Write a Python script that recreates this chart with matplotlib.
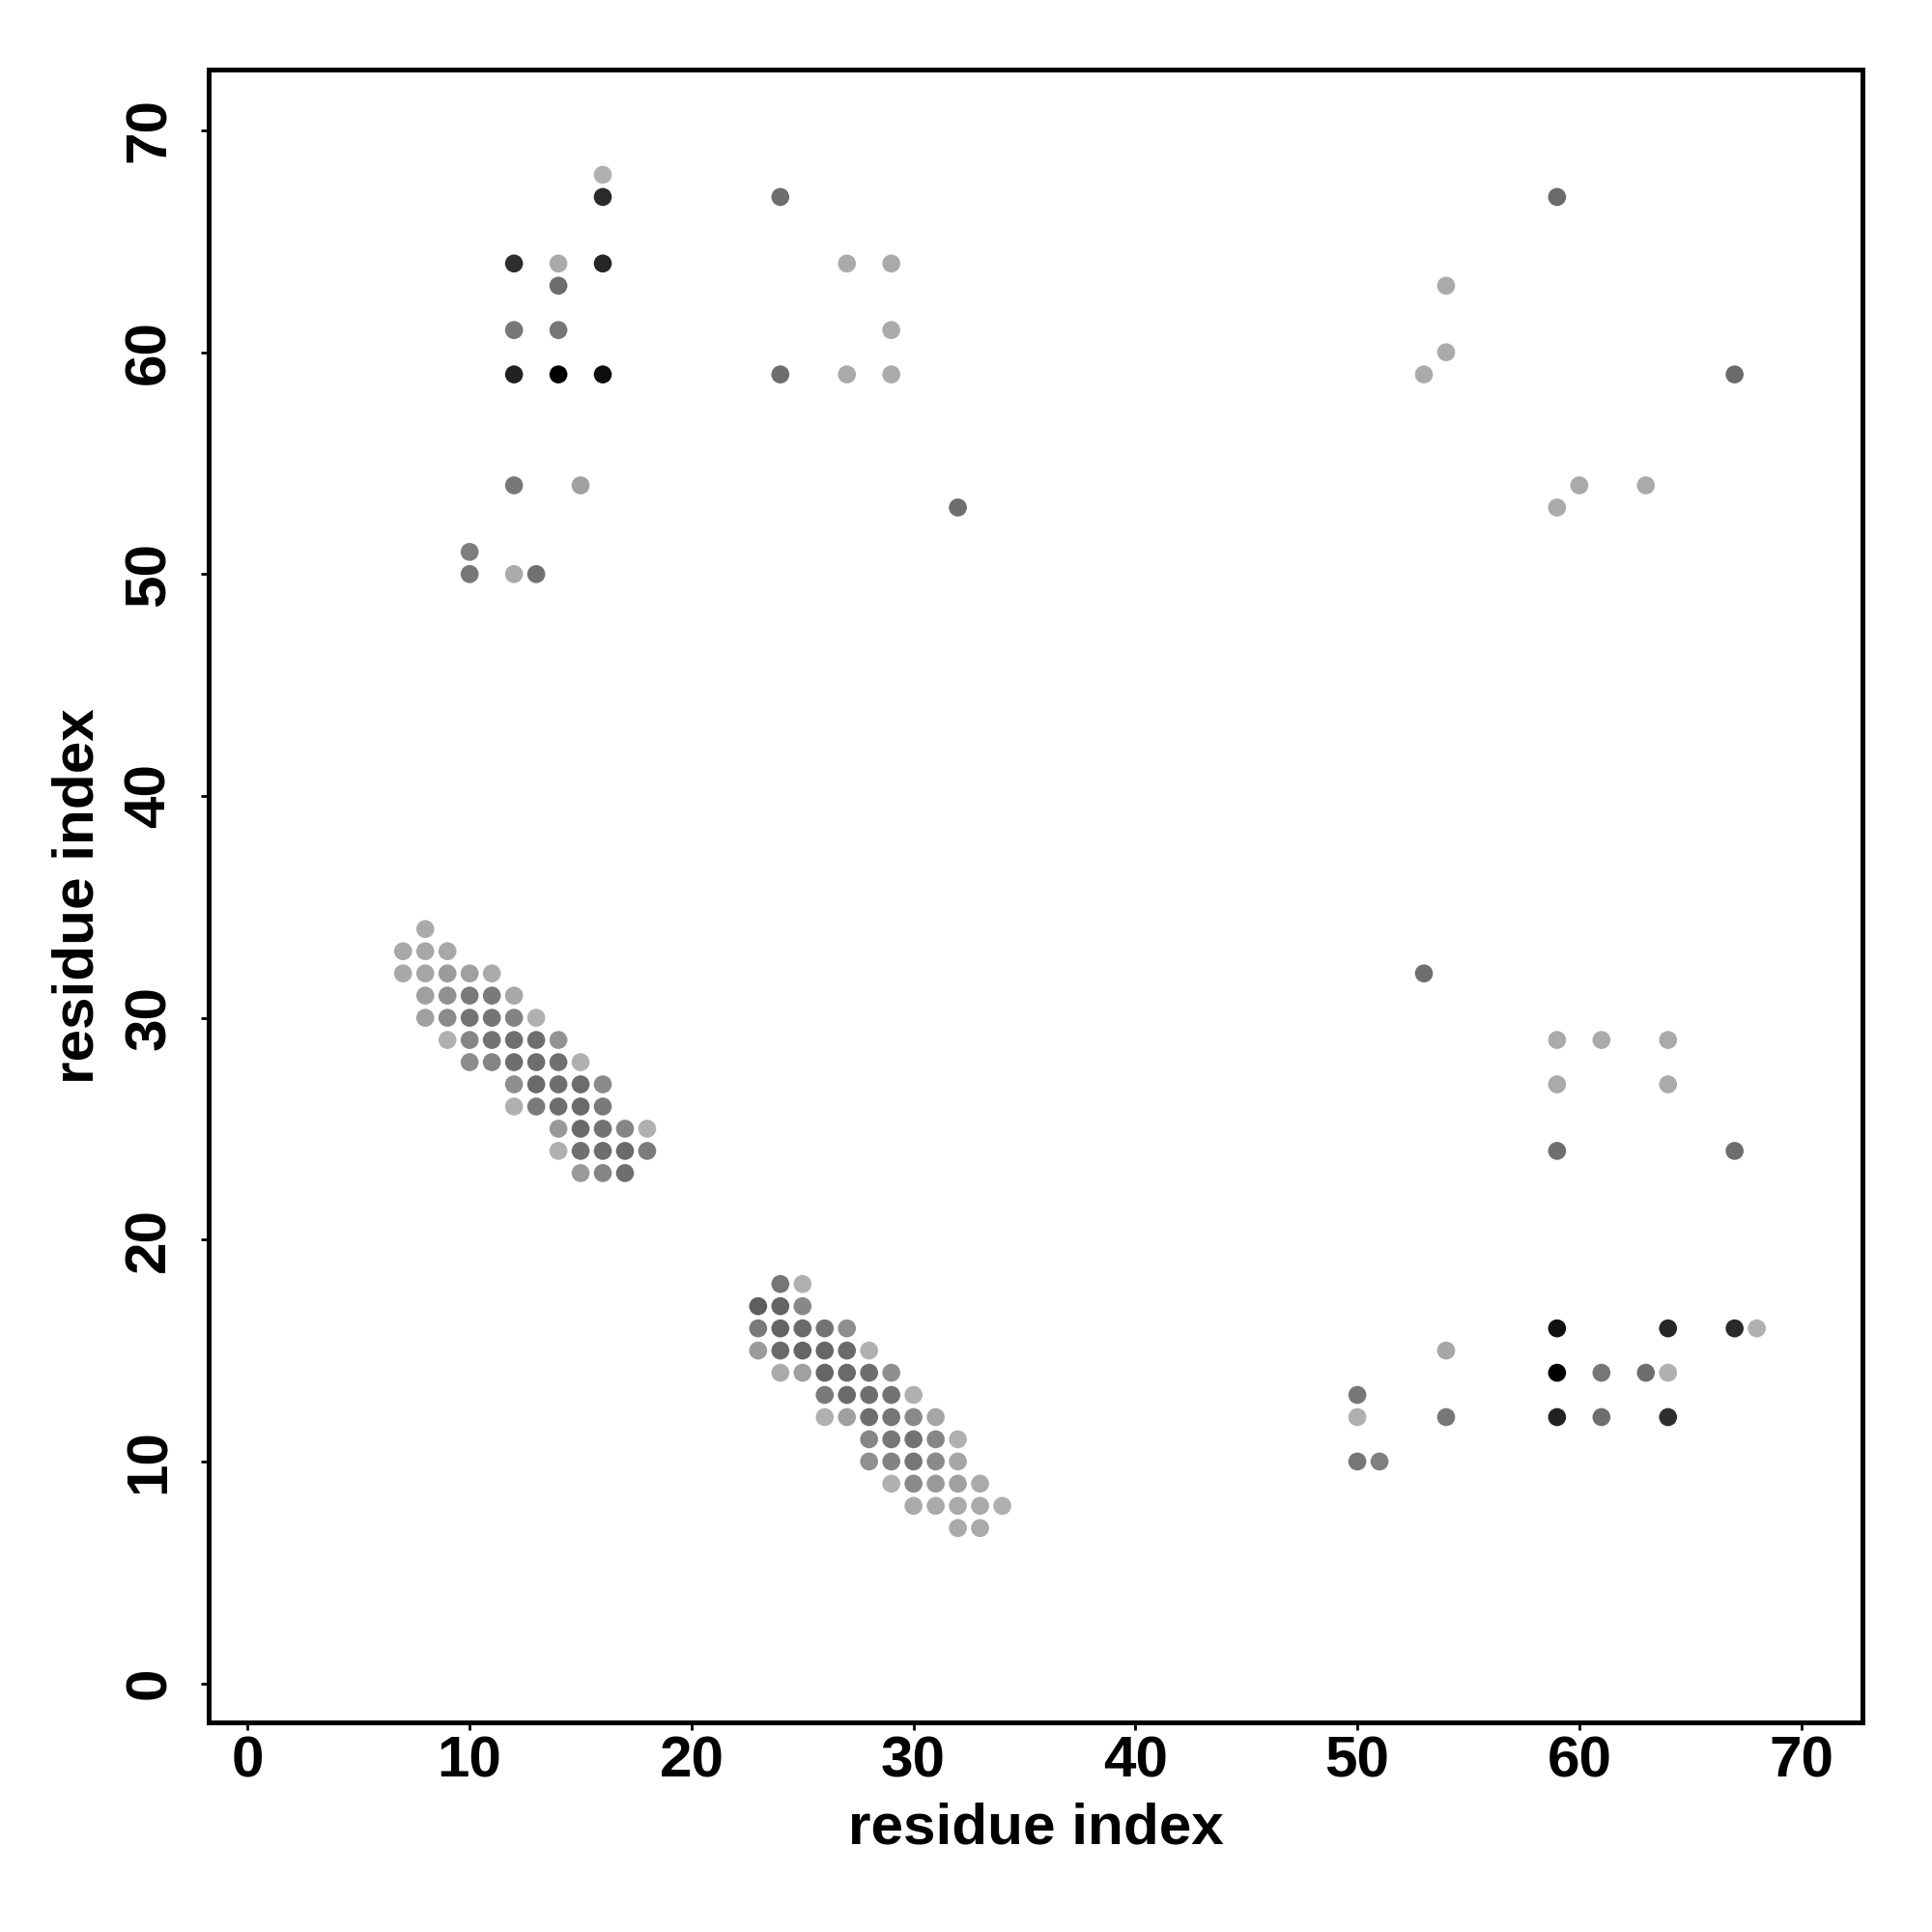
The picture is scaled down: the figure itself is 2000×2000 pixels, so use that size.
import matplotlib
matplotlib.use("Agg")
import matplotlib.pyplot as plt

# contact map points: residue i, residue j, grey level (0 = black, 255 = white)
res_i = [
    8,
    7, 8, 9,
    7, 8, 9, 10, 11,
    8, 9, 10, 11, 12,
    8, 9, 10, 11, 12, 13,
    9, 10, 11, 12, 13, 14,
    10, 11, 12, 13, 14, 15,
    12, 13, 14, 15, 16,
    12, 13, 14, 15, 16,
    14, 15, 16, 17, 18,
    14, 15, 16, 17, 18,
    15, 16, 17,
    # second strand pair
    24, 25,
    23, 24, 25,
    23, 24, 25, 26, 27,
    23, 24, 25, 26, 27, 28,
    24, 25, 26, 27, 28, 29,
    26, 27, 28, 29, 30,
    26, 27, 28, 29, 30, 31,
    28, 29, 30, 31, 32,
    28, 29, 30, 31, 32,
    29, 30, 31, 32, 33,
    30, 31, 32, 33, 34,
    32, 33,
    # top left
    16, 16, 12, 14, 16, 14, 12, 14, 12, 14, 16, 12, 15, 10, 10, 12, 13,
    # top middle
    24, 27, 29, 29, 24, 27, 29, 32,
    # top right
    59, 54, 54, 53, 67, 60, 63, 59,
    # right middle
    53, 59, 61, 64, 59, 64, 59, 67,
    # bottom right
    59, 64, 67, 68, 54, 59, 61, 63, 64, 50, 50, 54, 59, 61, 64, 50, 51,
]

res_j = [
    34,
    33, 33, 33,
    32, 32, 32, 32, 32,
    31, 31, 31, 31, 31,
    30, 30, 30, 30, 30, 30,
    29, 29, 29, 29, 29, 29,
    28, 28, 28, 28, 28, 28,
    27, 27, 27, 27, 27,
    26, 26, 26, 26, 26,
    25, 25, 25, 25, 25,
    24, 24, 24, 24, 24,
    23, 23, 23,
    18, 18,
    17, 17, 17,
    16, 16, 16, 16, 16,
    15, 15, 15, 15, 15, 15,
    14, 14, 14, 14, 14, 14,
    13, 13, 13, 13, 13,
    12, 12, 12, 12, 12, 12,
    11, 11, 11, 11, 11,
    10, 10, 10, 10, 10,
    9, 9, 9, 9, 9,
    8, 8, 8, 8, 8,
    7, 7,
    68, 67, 64, 64, 64, 63, 61, 61, 59, 59, 59, 54, 54, 51, 50, 50, 50,
    67, 64, 64, 61, 59, 59, 59, 53,
    67, 63, 60, 59, 59, 54, 54, 53,
    32, 29, 29, 29, 27, 27, 24, 24,
    16, 16, 16, 16, 15, 14, 14, 14, 14, 13, 12, 12, 12, 12, 12, 10, 10,
]

grey = [
    170,
    168, 168, 168,
    168, 165, 155, 160, 170,
    160, 145, 122, 122, 168,
    160, 138, 116, 116, 131, 176,
    176, 133, 114, 112, 110, 147,
    141, 133, 110, 110, 112, 176,
    143, 106, 110, 108, 138,
    176, 122, 110, 106, 122,
    153, 106, 114, 134, 176,
    176, 112, 110, 106, 124,
    153, 133, 110,
    118, 176,
    94, 100, 136,
    122, 100, 106, 115, 142,
    154, 106, 102, 102, 106, 176,
    170, 160, 102, 106, 110, 142,
    122, 106, 110, 114, 176,
    176, 160, 110, 118, 138, 166,
    134, 118, 114, 134, 176,
    144, 131, 118, 138, 166,
    176, 138, 153, 160, 170,
    170, 170, 170, 170, 176,
    170, 170,
    176, 42, 46, 170, 38, 110, 119, 119, 34, 0, 14, 119, 160, 126, 119, 170, 112,
    110, 170, 170, 170, 110, 170, 170, 110,
    106, 170, 170, 170, 106, 170, 170, 170,
    110, 170, 170, 170, 170, 170, 110, 110,
    17, 38, 42, 176, 166, 0, 119, 110, 176, 119, 176, 119, 34, 110, 46, 119, 128,
]

ticks = [0, 10, 20, 30, 40, 50, 60, 70]

plt.rcParams["font.family"] = ["Liberation Sans", "DejaVu Sans"]
plt.rcParams["font.weight"] = "bold"

fig = plt.figure(figsize=(10, 10), dpi=200)
ax = fig.add_axes([0.108, 0.1085, 0.856, 0.8557])

colors = [(g / 255, g / 255, g / 255) for g in grey]
ax.scatter(res_i, res_j, s=45, c=colors, linewidths=0)

ax.set_xlim(-1.76, 72.76)
ax.set_ylim(-1.76, 72.76)
ax.set_xticks(ticks)
ax.set_yticks(ticks)
ax.set_xticklabels([str(t) for t in ticks], fontsize=21.7, fontweight="bold")
ax.set_yticklabels([str(t) for t in ticks], fontsize=21.7, fontweight="bold",
                   rotation=90, va="center")
ax.tick_params(direction="out", length=3, width=1, pad=2)
ax.tick_params(axis="y", pad=9)

for sp in ax.spines.values():
    sp.set_linewidth(1.8)

ax.set_xlabel("residue index", fontsize=21.7, fontweight="bold", labelpad=5)
ax.set_ylabel("residue index", fontsize=21.7, fontweight="bold", labelpad=7)

fig.savefig("out.png", dpi=200)
